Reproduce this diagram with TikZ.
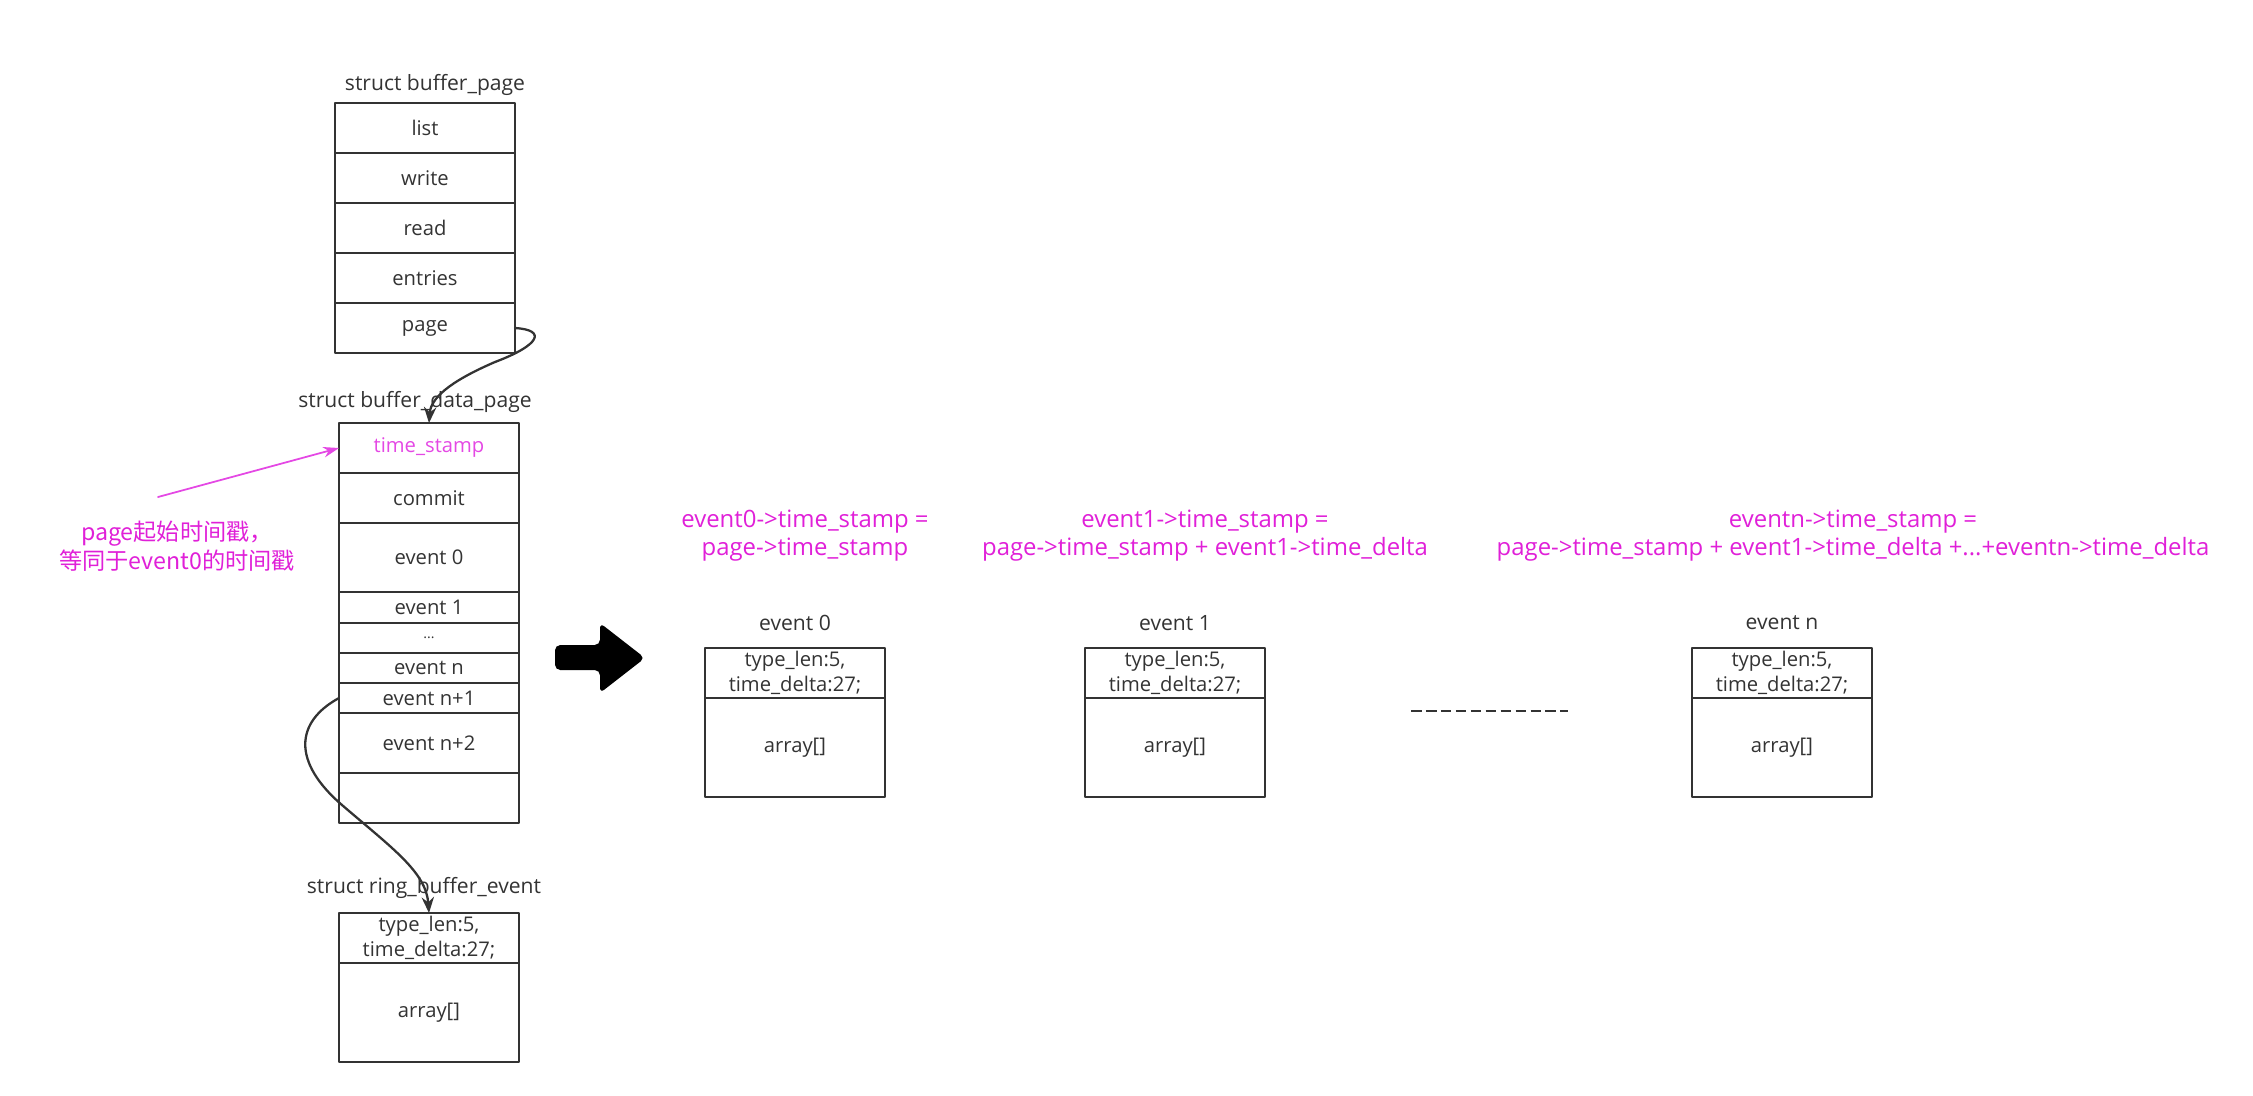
\documentclass[tikz,border=0pt]{standalone}
\usepackage{fontspec}
\setmainfont{Open Sans}
\newfontfamily\cjk{Noto Sans CJK SC}
\usetikzlibrary{positioning,arrows.meta}
\definecolor{boxgray}{HTML}{333333}
\definecolor{tsmagenta}{HTML}{E020D8}
\definecolor{tslight}{HTML}{E448E4}
\tikzset{
  field/.style={draw=boxgray, line width=1.3pt, minimum width=3.6cm, minimum height=1cm,
    inner sep=0pt, outer sep=0pt, text=boxgray, font=\fontsize{11.5}{14}\selectfont, align=center},
  title/.style={text=boxgray, font=\fontsize{12}{14}\selectfont},
  note/.style={text=tsmagenta, font=\fontsize{13.6}{16}\selectfont, align=center},
  link/.style={-{Stealth[length=9pt,width=7pt]}, line width=1.3pt, boxgray},
}
\begin{document}
\begin{tikzpicture}[x=0.2mm, y=-0.2mm, line join=round, line cap=round]
\useasboundingbox (0,0) rectangle (2253,1095);

% struct buffer_page
\node[title] (bp-title) at (435,85) {struct buffer\_page};
\node[field] (bp-list) at (425,128) {list};
\node[field, below=0pt of bp-list] (bp-write) {write};
\node[field, below=0pt of bp-write] (bp-read) {read};
\node[field, below=0pt of bp-read] (bp-entries) {entries};
\node[field, below=0pt of bp-entries] (bp-page) {page};

% struct buffer_data_page
\node[title] (dp-title) at (415,402) {struct buffer\_data\_page};
\node[field, text=tslight] (ts) at (429,448) {time\_stamp};
\node[field, below=0pt of ts] (commit) {commit};
\node[field, minimum height=1.38cm, below=0pt of commit] (dp-e0) {event 0};
\node[field, minimum height=0.62cm, below=0pt of dp-e0] (dp-e1) {event 1};
\node[field, minimum height=0.6cm, below=0pt of dp-e1] (dp-dots) {\fontsize{8}{9}\selectfont ...};
\node[field, minimum height=0.6cm, below=0pt of dp-dots] (dp-en) {event n};
\node[field, minimum height=0.6cm, below=0pt of dp-en] (dp-n1) {event n+1};
\node[field, minimum height=1.2cm, below=0pt of dp-n1] (dp-n2) {event n+2};
\node[field, below=0pt of dp-n2] (dp-free) {};

% struct ring_buffer_event
\node[title] (rb-title) at (424,888) {struct ring\_buffer\_event};
\node[field] (rb-head) at (429,938) {type\_len:5,\\time\_delta:27;};
\node[field, minimum height=1.98cm, below=0pt of rb-head] (rb-body) {array[]};

% pointers
\draw[link] (bp-page.east) .. controls +(32,2) and (540,345) .. (495,362)
  .. controls (458,378) and (431,395) .. (ts.north);
\draw[link] (dp-n1.west) .. controls (295,722) and (292,762) .. (342,805)
  .. controls (392,848) and (426,872) .. (rb-head.north);

% chu thich time_stamp
\node[note, font=\cjk\fontsize{13.2}{16.5}\selectfont] (anno) at (177,546) {page起始时间戳，\\等同于event0的时间戳};
\coordinate (anno-tail) at (158,497);
\draw[-{Stealth[length=9pt,width=6pt]}, line width=1pt, tslight] (anno-tail) -- (ts.west);

% mui ten lon
\fill[black, rounded corners=3pt] (555,645) -- (600,645) -- (600,623) -- (645,658)
  -- (600,693) -- (600,670) -- (555,670) -- cycle;

% cac event
\foreach \name/\cx/\lbl in {e0/795/event 0, e1/1175/event 1, en/1782/event n}{
  \node[title] (\name-title) at (\cx,623) {\lbl};
  \node[field] (\name-head) at (\cx,673) {type\_len:5,\\time\_delta:27;};
  \node[field, minimum height=1.98cm, below=0pt of \name-head] (\name-body) {array[]};
}

% cong thuc
\node[note] (f0) at (805,536) {event0->time\_stamp =\\page->time\_stamp};
\node[note] (f1) at (1205,536) {event1->time\_stamp =\\page->time\_stamp + event1->time\_delta};
\node[note] (fn) at (1853,536) {eventn->time\_stamp =\\page->time\_stamp + event1->time\_delta +...+eventn->time\_delta};

% dau cach
\coordinate (gap-l) at (1411,711);
\coordinate (gap-r) at (1568,711);
\draw[boxgray, line width=1.1pt, line cap=butt, dash pattern=on 6pt off 2.5pt] (gap-l) -- (gap-r);

\end{tikzpicture}
\end{document}
